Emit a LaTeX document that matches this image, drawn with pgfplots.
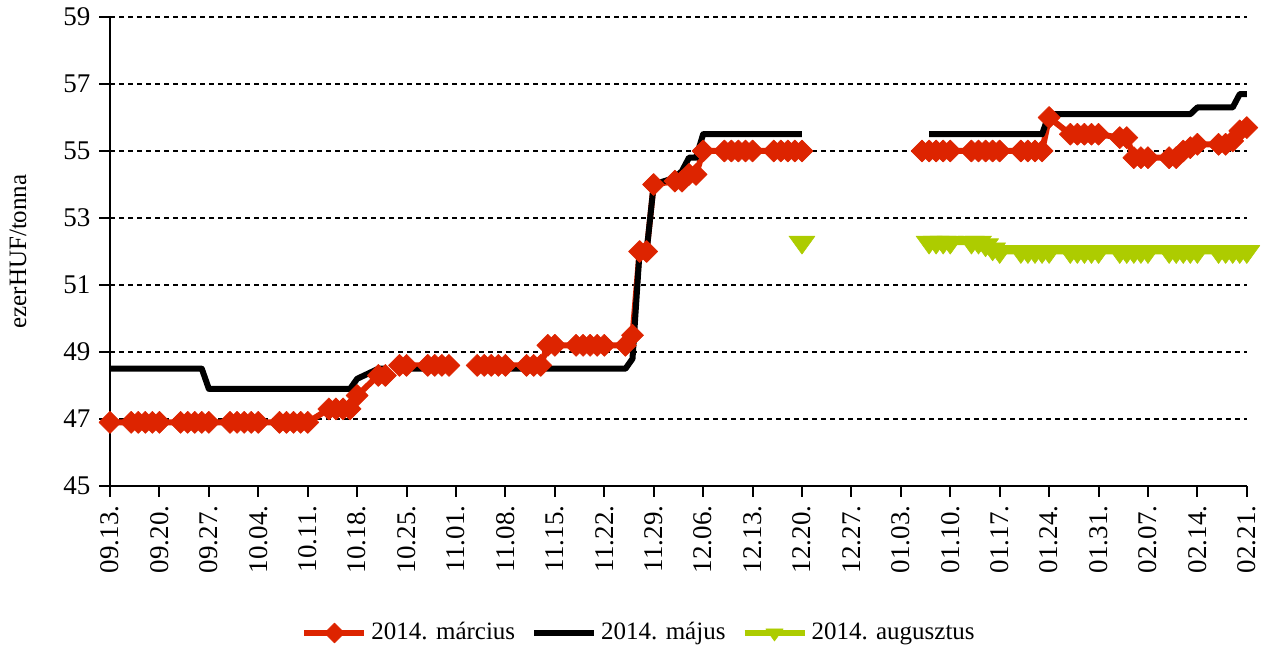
\documentclass[border=0pt]{standalone}
\usepackage{pgfplots}
\pgfplotsset{compat=1.18}
\usepackage{pgfplotstable}
\usepackage{fontspec}
\setmainfont{Liberation Serif}
\definecolor{myred}{RGB}{221,36,0}
\definecolor{mygreen}{RGB}{173,204,0}

\pgfplotstableread{
d v
0 46.9
3 46.9
4 46.9
5 46.9
6 46.9
7 46.9
10 46.9
11 46.9
12 46.9
13 46.9
14 46.9
17 46.9
18 46.9
19 46.9
20 46.9
21 46.9
24 46.9
25 46.9
26 46.9
27 46.9
28 46.9
31 47.3
32 47.3
33 47.3
34 47.3
35 47.7
38 48.3
39 48.3
40 nan
41 48.6
42 48.6
45 48.6
46 48.6
47 48.6
48 48.6
49 nan
52 48.6
53 48.6
54 48.6
55 48.6
56 48.6
59 48.6
60 48.6
61 48.6
62 49.2
63 49.2
66 49.2
67 49.2
68 49.2
69 49.2
70 49.2
73 49.2
74 49.5
75 52.0
76 52.0
77 54.0
80 54.1
81 54.1
82 54.3
83 54.3
84 55.0
87 55.0
88 55.0
89 55.0
90 55.0
91 55.0
94 55.0
95 55.0
96 55.0
97 55.0
98 55.0
99 nan
115 55.0
116 55.0
117 55.0
118 55.0
119 55.0
122 55.0
123 55.0
124 55.0
125 55.0
126 55.0
129 55.0
130 55.0
131 55.0
132 55.0
133 56.0
136 55.5
137 55.5
138 55.5
139 55.5
140 55.5
143 55.4
144 55.4
145 54.8
146 54.8
147 54.8
150 54.8
151 54.8
152 55.0
153 55.1
154 55.2
157 55.2
158 55.2
159 55.3
160 55.6
161 55.7
}\redtab

\pgfplotstableread{
d v
0 48.5
3 48.5
4 48.5
5 48.5
6 48.5
7 48.5
10 48.5
11 48.5
12 48.5
13 48.5
14 47.9
17 47.9
18 47.9
19 47.9
20 47.9
21 47.9
24 47.9
25 47.9
26 47.9
27 47.9
28 47.9
31 47.9
32 47.9
33 47.9
34 47.9
35 48.2
38 48.5
39 48.5
40 nan
41 48.5
42 48.5
45 48.5
46 48.5
47 48.5
48 48.5
49 nan
52 48.5
53 48.5
54 48.5
55 48.5
56 48.5
59 48.5
60 48.5
61 48.5
62 48.5
63 48.5
66 48.5
67 48.5
68 48.5
69 48.5
70 48.5
73 48.5
74 48.8
75 52.0
76 52.0
77 54.0
80 54.2
81 54.4
82 54.8
83 54.8
84 55.5
87 55.5
88 55.5
89 55.5
90 55.5
91 55.5
94 55.5
95 55.5
96 55.5
97 55.5
98 55.5
99 nan
116 55.5
117 55.5
118 55.5
119 55.5
122 55.5
123 55.5
124 55.5
125 55.5
126 55.5
129 55.5
130 55.5
131 55.5
132 55.5
133 56.1
136 56.1
137 56.1
138 56.1
139 56.1
140 56.1
143 56.1
144 56.1
145 56.1
146 56.1
147 56.1
150 56.1
151 56.1
152 56.1
153 56.1
154 56.3
157 56.3
158 56.3
159 56.3
160 56.7
161 56.7
}\blacktab

\pgfplotstableread{
d v
98 52.28
99 nan
116 52.28
117 52.28
118 52.28
119 52.28
122 52.28
123 52.28
124 52.2
125 52.08
126 52.0
129 52.0
130 52.0
131 52.0
132 52.0
133 52.0
136 52.0
137 52.0
138 52.0
139 52.0
140 52.0
143 52.0
144 52.0
145 52.0
146 52.0
147 52.0
150 52.0
151 52.0
152 52.0
153 52.0
154 52.0
157 52.0
158 52.0
159 52.0
160 52.0
161 52.0
}\greentab

\begin{document}
\fontsize{12.5}{15}\selectfont
\begin{tikzpicture}
\useasboundingbox (0,0) rectangle (634pt,326pt);
\begin{axis}[
  at={(55pt,83pt)}, anchor=south west,
  scale only axis, width=568.4pt, height=234.5pt,
  xmin=0, xmax=161, ymin=45, ymax=59,
  ytick={45,47,...,59},
  xtick={0,7,...,161},
  xticklabels={09.13.,09.20.,09.27.,10.04.,10.11.,10.18.,10.25.,11.01.,11.08.,11.15.,11.22.,11.29.,12.06.,12.13.,12.20.,12.27.,01.03.,01.10.,01.17.,01.24.,01.31.,02.07.,02.14.,02.21.},
  axis x line*=bottom, axis y line*=left,
  axis line style={line width=1pt},
  tick style={line width=1pt, black},
  tick align=outside, major tick length=5.5pt,
  ymajorgrids, grid style={black, line width=1pt, dash pattern=on 2.5pt off 2pt},
  tick label style={font=\fontsize{13.5}{16}\selectfont},
  xticklabel style={rotate=90, anchor=east},
  /pgf/number format/assume math mode=true,
  ylabel={ezerHUF/tonna},
  ylabel style={at={(axis description cs:-0.081,0.5)}, anchor=center, font=\fontsize{12.5}{15}\selectfont},
  unbounded coords=jump,
  clip=false,
  legend columns=3,
  legend style={at={(0.4663,-0.3134)}, anchor=center, draw=none, fill=none,
    font=\fontsize{12.5}{15}\selectfont,
    /tikz/every even column/.append style={column sep=6pt}},
  legend image code/.code={\draw[mark repeat=2,mark phase=2] plot coordinates {(0pt,0pt) (15pt,0pt) (30pt,0pt)};},
]
\addplot[myred, line width=3pt, line join=round, mark=square*, mark size=3.9pt,
  mark options={rotate=45, solid, fill=myred, draw=myred, line width=0.3pt},
  legend image post style={mark size=3.5pt}]
  table[x=d, y=v] {\redtab};
\addlegendentry{2014. március}
\addplot[black, line width=3pt, line join=round, mark=none]
  table[x=d, y=v] {\blacktab};
\addlegendentry{2014. május}
\addplot[mygreen, line width=3pt, line join=round, mark=triangle*, mark size=7.5pt,
  mark options={rotate=180, yscale=0.8, solid, fill=mygreen, draw=mygreen, line width=0.3pt},
  legend image post style={mark size=5pt}]
  table[x=d, y=v] {\greentab};
\addlegendentry{2014. augusztus}
\end{axis}
\end{tikzpicture}
\end{document}
